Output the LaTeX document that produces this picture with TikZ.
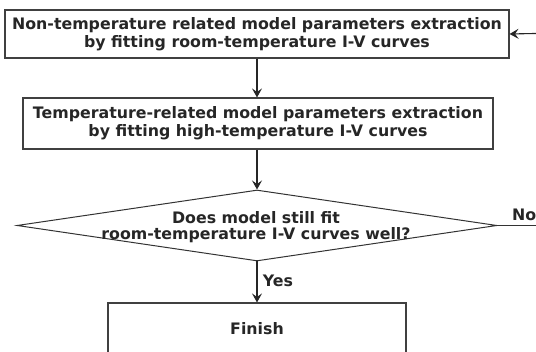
\documentclass[tikz,border=0pt]{standalone}
\usepackage{fontspec}
\setmainfont{DejaVu Sans}
\usetikzlibrary{shapes.geometric,arrows.meta}
\begin{document}
\begin{tikzpicture}[x=1pt,y=1pt,
  every node/.style={font=\bfseries\fontsize{15.8}{18}\selectfont, text=black!85},
  boxst/.style={draw=black!75, line width=1.1pt, rectangle, inner sep=0pt, align=center},
  dia/.style={draw=black!80, line width=1pt, diamond, aspect=6.76, inner sep=0pt, minimum width=480pt, minimum height=71pt},
  conn/.style={draw=black!85, line width=1.1pt, -{Stealth[length=9pt,width=10pt,inset=3.5pt]}},
  plain/.style={draw=black!80, line width=1pt}]
\useasboundingbox (0,0) rectangle (536,352);
\clip (0,0) rectangle (536,352);
\node[boxst, minimum width=504pt, minimum height=48pt] (b1) at (257,318)
  {Non-temperature related model parameters extraction\\by fitting room-temperature I-V curves};
\node[boxst, minimum width=470pt, minimum height=51pt] (b2) at (258,228.5)
  {Temperature-related model parameters extraction\\by fitting high-temperature I-V curves};
\node[dia] (d) at (257,126.5) {};
\node[align=center, font=\bfseries\fontsize{15.8}{16}\selectfont] (dt) at (256,125) {Does model still fit\\room-temperature I-V curves well?};
\node[boxst, minimum width=298pt, minimum height=52pt] (fin) at (257,23) {Finish};
\coordinate (r1) at (560,126.5);
\coordinate (r2) at (560,319);
\draw[conn] (b1.south -| d.north) -- (b2.north -| d.north);
\draw[conn] (b2.south -| d.north) -- (d.north);
\draw[conn] (d.south) -- (fin.north -| d.south) node[midway, right, xshift=2pt, yshift=1pt] (yes) {Yes};
\draw[plain] (d.east) -- (r1);
\node[anchor=south west, inner sep=1pt] (no) at (511,130) {No};
\draw[conn] (r1) -- (r2) -- (b1.east);
\end{tikzpicture}
\end{document}
